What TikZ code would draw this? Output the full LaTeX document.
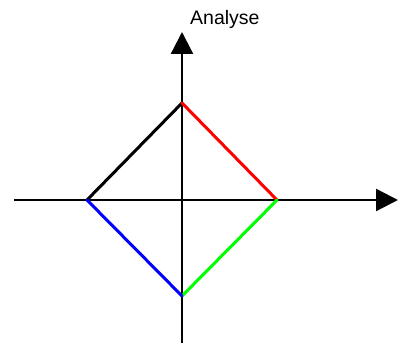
\documentclass[tikz,border=0pt]{standalone}
\usepackage{fontspec}
\setmainfont{Liberation Sans}
\usetikzlibrary{arrows.meta}
\definecolor{PureGreen}{rgb}{0,1,0}

\begin{document}
\begin{tikzpicture}[x=1pt,y=-1pt,
axis/.style={line width=2.3pt,-{Triangle[length=22pt,width=22pt]}},
side/.style={line width=3pt,line cap=round,line join=round},
lbl/.style={font=\fontsize{19.5}{23}\selectfont,inner sep=0pt}]

\useasboundingbox (0,0) rectangle (402,347);

\coordinate (xs) at (14,200);
\coordinate (xe) at (398,200);
\coordinate (ys) at (182,343);
\coordinate (ye) at (182,32);

\coordinate (top) at (182,103);
\coordinate (right) at (277,200);
\coordinate (bottom) at (182,296);
\coordinate (left) at (87,200);

\draw[axis] (xs) -- (xe);
\draw[axis] (ys) -- (ye);
\node[lbl,anchor=base west] (ana) at (190,25) {Analyse};

\draw[side,black] (left) -- (top);
\draw[side,red] (top) -- (right);
\draw[side,PureGreen] (right) -- (bottom);
\draw[side,blue] (bottom) -- (left);

\end{tikzpicture}
\end{document}
